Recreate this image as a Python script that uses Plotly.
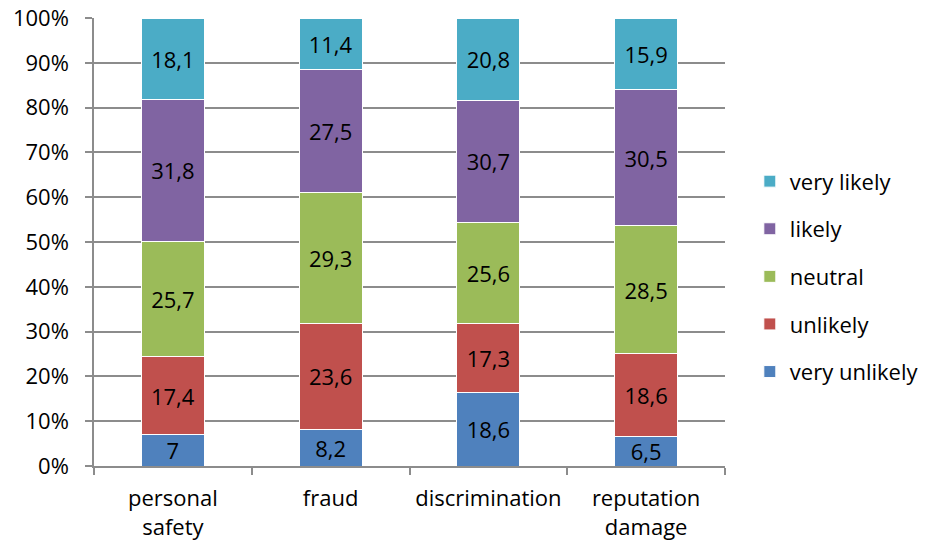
import plotly.graph_objects as go

# Survey results: perceived likelihood of harm per risk category
categories = ["personal<br>safety", "fraud", "discrimination", "reputation<br>damage"]
very_unlikely = [7, 8.2, 18.6, 6.5]
unlikely = [17.4, 23.6, 17.3, 18.6]
neutral = [25.7, 29.3, 25.6, 28.5]
likely = [31.8, 27.5, 30.7, 30.5]
very_likely = [18.1, 11.4, 20.8, 15.9]

series = [
    ("very unlikely", very_unlikely, "#4F81BD", 5),
    ("unlikely", unlikely, "#C0504D", 4),
    ("neutral", neutral, "#9BBB59", 3),
    ("likely", likely, "#8064A2", 2),
    ("very likely", very_likely, "#4BACC6", 1),
]

FONT = "Open Sans, sans-serif"
FS = 22
GRID = "#8c8c8c"


def fmt(v):
    return f"{v:g}".replace(".", ",")


fig = go.Figure()
for name, vals, color, rank in series:
    fig.add_trace(go.Bar(
        name=name,
        x=categories,
        y=vals,
        text=[fmt(v) for v in vals],
        textposition="inside",
        insidetextanchor="middle",
        textangle=0,
        constraintext="none",
        textfont=dict(size=FS, color="black", family=FONT),
        marker=dict(color=color, line=dict(color="white", width=1)),
        legendgroup=name,
        legendrank=rank,
        hoverinfo="skip",
    ))

fig.update_layout(
    barmode="stack",
    barnorm="percent",
    bargap=0.6,
    width=928,
    height=544,
    margin=dict(l=94, r=203, t=18, b=78, autoexpand=False),
    paper_bgcolor="white",
    plot_bgcolor="white",
    font=dict(family=FONT, size=FS, color="black"),
    legend=dict(
        xref="container", yref="container",
        x=0.808, y=0.492, xanchor="left", yanchor="middle",
        traceorder="grouped",
        tracegroupgap=16,
        font=dict(size=FS, family=FONT),
        itemwidth=30,
    ),
    xaxis=dict(
        showline=True, linecolor=GRID, linewidth=1.5,
        ticks="outside", ticklen=7, tickcolor=GRID, tickwidth=1.5,
        tickson="boundaries",
        tickangle=0,
        showgrid=False,
        automargin=False,
        ticklabelstandoff=12,
        tickfont=dict(size=FS, family=FONT),
    ),
    yaxis=dict(
        range=[0, 100], dtick=10, ticksuffix="%",
        showline=True, linecolor=GRID, linewidth=1.5,
        ticks="outside", ticklen=7, tickcolor=GRID, tickwidth=1.5,
        showgrid=True, gridcolor=GRID, gridwidth=1.5,
        zeroline=False,
        automargin=False,
        tickfont=dict(size=FS, family=FONT),
        ticklabelstandoff=12,
    ),
)

fig.write_html("out.html")
